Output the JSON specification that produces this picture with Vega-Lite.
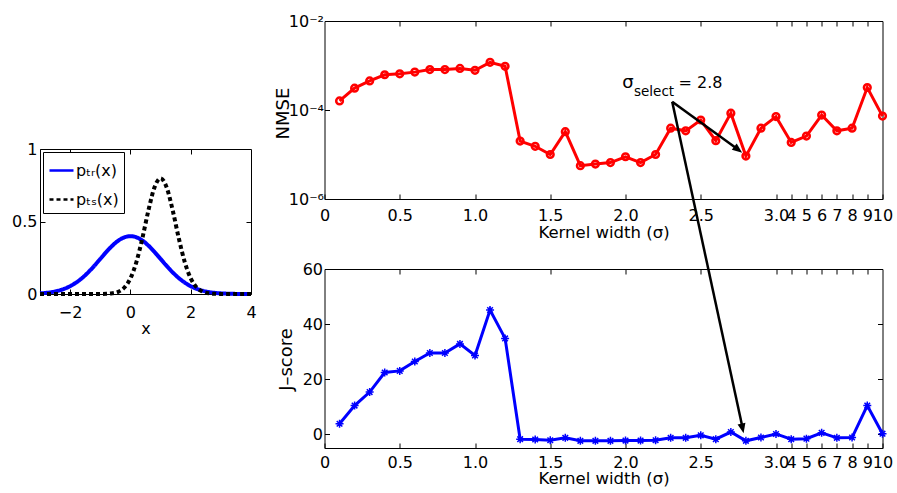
{
  "$schema": "https://vega.github.io/schema/vega-lite/v6.json",
  "background": "white",
  "padding": {"left": 11, "top": 12, "right": 0, "bottom": 0},
  "config": {
    "font": "DejaVu Sans",
    "view": {"stroke": "black", "strokeWidth": 1},
    "axis": {
      "domain": false, "grid": false, "tickSize": -5, "tickColor": "black", "tickWidth": 1,
      "labelFont": "DejaVu Sans", "labelFontSize": 16, "labelColor": "black",
      "titleFont": "DejaVu Sans", "titleFontSize": 16, "titleFontWeight": "normal", "titleColor": "black",
      "labelOverlap": false, "labelFlush": false
    },
    "legend": {
      "orient": "top-left", "offset": 3, "title": null, "labelFont": "DejaVu Sans", "labelFontSize": 16, "labelColor": "black",
      "symbolType": "stroke", "symbolSize": 576, "symbolStrokeWidth": 2.5, "strokeColor": "black", "fillColor": "white",
      "padding": 5, "rowPadding": 7, "labelOffset": 1
    }
  },
  "datasets": {
    "gauss": [
      {"x": -3.0, "tr": 0.00443, "ts": 0}, {"x": -2.8, "tr": 0.00792, "ts": 0}, {"x": -2.6, "tr": 0.01358, "ts": 0},
      {"x": -2.4, "tr": 0.02239, "ts": 0}, {"x": -2.2, "tr": 0.03547, "ts": 0}, {"x": -2.0, "tr": 0.05399, "ts": 0},
      {"x": -1.8, "tr": 0.07895, "ts": 0}, {"x": -1.6, "tr": 0.11092, "ts": 0}, {"x": -1.4, "tr": 0.14973, "ts": 0.00001},
      {"x": -1.2, "tr": 0.19419, "ts": 0.00005}, {"x": -1.0, "tr": 0.24197, "ts": 0.00027}, {"x": -0.8, "tr": 0.28969, "ts": 0.00122},
      {"x": -0.6, "tr": 0.33322, "ts": 0.00477}, {"x": -0.4, "tr": 0.36827, "ts": 0.01583}, {"x": -0.2, "tr": 0.39104, "ts": 0.04478},
      {"x": 0.0, "tr": 0.39894, "ts": 0.10798}, {"x": 0.2, "tr": 0.39104, "ts": 0.22184}, {"x": 0.4, "tr": 0.36827, "ts": 0.38837},
      {"x": 0.6, "tr": 0.33322, "ts": 0.57938}, {"x": 0.8, "tr": 0.28969, "ts": 0.73654}, {"x": 1.0, "tr": 0.24197, "ts": 0.79788},
      {"x": 1.2, "tr": 0.19419, "ts": 0.73654}, {"x": 1.4, "tr": 0.14973, "ts": 0.57938}, {"x": 1.6, "tr": 0.11092, "ts": 0.38837},
      {"x": 1.8, "tr": 0.07895, "ts": 0.22184}, {"x": 2.0, "tr": 0.05399, "ts": 0.10798}, {"x": 2.2, "tr": 0.03547, "ts": 0.04478},
      {"x": 2.4, "tr": 0.02239, "ts": 0.01583}, {"x": 2.6, "tr": 0.01358, "ts": 0.00477}, {"x": 2.8, "tr": 0.00792, "ts": 0.00122},
      {"x": 3.0, "tr": 0.00443, "ts": 0.00027}, {"x": 3.2, "tr": 0.00238, "ts": 0.00005}, {"x": 3.4, "tr": 0.00123, "ts": 0.00001},
      {"x": 3.6, "tr": 0.00061, "ts": 0}, {"x": 3.8, "tr": 0.00029, "ts": 0}, {"x": 4.0, "tr": 0.00013, "ts": 0}
    ],
    "nmse": [
      {"sigma": 0.1, "nmse": 1.6e-4}, {"sigma": 0.2, "nmse": 3.1e-4}, {"sigma": 0.3, "nmse": 4.5e-4}, {"sigma": 0.4, "nmse": 6.2e-4},
      {"sigma": 0.5, "nmse": 6.5e-4}, {"sigma": 0.6, "nmse": 7.1e-4}, {"sigma": 0.7, "nmse": 8.1e-4}, {"sigma": 0.8, "nmse": 8.1e-4},
      {"sigma": 0.9, "nmse": 8.6e-4}, {"sigma": 1.0, "nmse": 7.8e-4}, {"sigma": 1.1, "nmse": 1.18e-3}, {"sigma": 1.2, "nmse": 9.6e-4},
      {"sigma": 1.3, "nmse": 2.0e-5}, {"sigma": 1.4, "nmse": 1.53e-5}, {"sigma": 1.5, "nmse": 1.0e-5}, {"sigma": 1.6, "nmse": 3.26e-5},
      {"sigma": 1.7, "nmse": 5.6e-6}, {"sigma": 1.8, "nmse": 6.1e-6}, {"sigma": 1.9, "nmse": 6.6e-6}, {"sigma": 2.0, "nmse": 8.9e-6},
      {"sigma": 2.1, "nmse": 6.6e-6}, {"sigma": 2.2, "nmse": 1.0e-5}, {"sigma": 2.3, "nmse": 3.9e-5}, {"sigma": 2.4, "nmse": 3.4e-5},
      {"sigma": 2.5, "nmse": 5.96e-5}, {"sigma": 2.6, "nmse": 2.04e-5}, {"sigma": 2.7, "nmse": 8.5e-5}, {"sigma": 2.8, "nmse": 9.2e-6},
      {"sigma": 2.9, "nmse": 3.9e-5}, {"sigma": 3.0, "nmse": 7.1e-5}, {"sigma": 4, "nmse": 1.87e-5}, {"sigma": 5, "nmse": 2.6e-5},
      {"sigma": 6, "nmse": 7.7e-5}, {"sigma": 7, "nmse": 3.4e-5}, {"sigma": 8, "nmse": 3.9e-5}, {"sigma": 9, "nmse": 3.2e-4},
      {"sigma": 10, "nmse": 7.3e-5}
    ],
    "jscore": [
      {"sigma": 0.1, "j": 3.8}, {"sigma": 0.2, "j": 10.4}, {"sigma": 0.3, "j": 15.3}, {"sigma": 0.4, "j": 22.4},
      {"sigma": 0.5, "j": 23.0}, {"sigma": 0.6, "j": 26.4}, {"sigma": 0.7, "j": 29.5}, {"sigma": 0.8, "j": 29.5},
      {"sigma": 0.9, "j": 32.8}, {"sigma": 1.0, "j": 28.6}, {"sigma": 1.1, "j": 45.1}, {"sigma": 1.2, "j": 34.8},
      {"sigma": 1.3, "j": -1.8}, {"sigma": 1.4, "j": -1.9}, {"sigma": 1.5, "j": -2.2}, {"sigma": 1.6, "j": -1.3},
      {"sigma": 1.7, "j": -2.4}, {"sigma": 1.8, "j": -2.4}, {"sigma": 1.9, "j": -2.4}, {"sigma": 2.0, "j": -2.3},
      {"sigma": 2.1, "j": -2.3}, {"sigma": 2.2, "j": -2.2}, {"sigma": 2.3, "j": -1.3}, {"sigma": 2.4, "j": -1.3},
      {"sigma": 2.5, "j": -0.4}, {"sigma": 2.6, "j": -1.8}, {"sigma": 2.7, "j": 0.8}, {"sigma": 2.8, "j": -2.4},
      {"sigma": 2.9, "j": -1.2}, {"sigma": 3.0, "j": 0.1}, {"sigma": 4, "j": -1.8}, {"sigma": 5, "j": -1.6},
      {"sigma": 6, "j": 0.5}, {"sigma": 7, "j": -1.3}, {"sigma": 8, "j": -1.2}, {"sigma": 9, "j": 10.4},
      {"sigma": 10, "j": 0.2}
    ]
  },
  "bounds": "flush",
  "spacing": 284.5,
  "resolve": {"scale": {"color": "independent", "strokeDash": "independent"}, "legend": {"color": "independent", "strokeDash": "independent"}},
  "hconcat": [
    {
      "bounds": "flush",
      "spacing": 118,
      "resolve": {"scale": {"color": "independent", "strokeDash": "independent"}, "legend": {"color": "independent", "strokeDash": "independent"}},
      "vconcat": [
        {
          "width": 211, "height": 10,
          "view": {"stroke": null},
          "data": {"values": [{"a": 1}]},
          "mark": {"type": "point", "opacity": 0},
          "encoding": {}
        },
        {
          "width": 211, "height": 145,
          "data": {"name": "gauss"},
          "transform": [{"fold": ["tr", "ts"], "as": ["series", "p"]}],
          "layer": [
            {
              "mark": {"type": "line", "strokeWidth": 4, "interpolate": "monotone", "strokeCap": "butt"},
              "encoding": {
                "x": {"field": "x", "type": "quantitative", "scale": {"domain": [-3, 4], "nice": false},
                      "axis": {"values": [-2, 0, 2, 4], "title": "x", "labelPadding": 28, "labelBaseline": "alphabetic", "titleY": 39, "titleBaseline": "alphabetic"}},
                "y": {"field": "p", "type": "quantitative", "scale": {"domain": [0, 1], "nice": false},
                      "axis": {"values": [0, 0.5, 1], "labelExpr": "format(datum.value, '~g')", "title": null, "labelPadding": 8}},
                "color": {"field": "series", "type": "nominal", "scale": {"domain": ["tr", "ts"], "range": ["#0000ff", "#000000"]},
                          "legend": {"labelExpr": "datum.value == 'tr' ? 'pₜᵣ(x)' : 'pₜₛ(x)'"}},
                "strokeDash": {"field": "series", "type": "nominal", "scale": {"domain": ["tr", "ts"], "range": [[1, 0], [4, 3]]},
                          "legend": {"labelExpr": "datum.value == 'tr' ? 'pₜᵣ(x)' : 'pₜₛ(x)'"}}
              }
            },
            {
              "mark": {"type": "point", "opacity": 0},
              "encoding": {
                "x": {"field": "x", "type": "quantitative", "axis": {"orient": "top", "values": [-2, 0, 2], "labels": false, "title": null}},
                "y": {"field": "p", "type": "quantitative", "axis": {"orient": "right", "values": [0.5], "labels": false, "title": null}}
              }
            }
          ],
          "resolve": {"axis": {"x": "independent", "y": "independent"}}
        }
      ]
    },
    {
      "bounds": "flush",
      "spacing": 70,
      "vconcat": [
        {
          "width": 558, "height": 178,
          "layer": [
            {
              "data": {"name": "nmse"},
              "mark": {"type": "line", "color": "#ff0000", "strokeWidth": 3},
              "encoding": {
                "x": {"field": "sigma", "type": "quantitative", "scale": {"domain": [0, 3, 10], "range": [0, 451.5, 558]},
                      "axis": {"values": [0, 0.5, 1, 1.5, 2, 2.5, 3, 4, 5, 6, 7, 8, 9, 10],
                               "labelExpr": "datum.value == 0 ? '0' : datum.value <= 3 ? format(datum.value, '.1f') : format(datum.value, 'd')",
                               "title": "Kernel width (σ)", "labelPadding": 26, "labelBaseline": "alphabetic",
                               "titleY": 38.7, "titleBaseline": "alphabetic", "titleFontSize": 16.5}},
                "y": {"field": "nmse", "type": "quantitative", "scale": {"type": "log", "domain": [1e-6, 1e-2]},
                      "axis": {"values": [1e-6, 1e-4, 1e-2],
                               "labelExpr": "datum.value < 5e-6 ? '10⁻⁶' : datum.value < 5e-4 ? '10⁻⁴' : '10⁻²'",
                               "title": "NMSE", "titleFontSize": 18, "titleX": -35.7, "titleY": 92, "titleBaseline": "alphabetic", "labelPadding": 6}}
              }
            },
            {
              "data": {"name": "nmse"},
              "mark": {"type": "point", "shape": "circle", "filled": false, "color": "#ff0000", "strokeWidth": 2.5, "size": 45, "opacity": 1},
              "encoding": {
                "x": {"field": "sigma", "type": "quantitative", "axis": null},
                "y": {"field": "nmse", "type": "quantitative", "axis": null}
              }
            },
            {
              "data": {"name": "nmse"},
              "mark": {"type": "point", "opacity": 0},
              "encoding": {
                "x": {"field": "sigma", "type": "quantitative", "axis": {"orient": "top", "values": [0.5, 1, 1.5, 2, 2.5, 3, 4, 5, 6, 7, 8, 9], "labels": false, "title": null}},
                "y": {"field": "nmse", "type": "quantitative", "axis": null}
              }
            },
            {
              "data": {"values": [{"s1": 2.3103, "n1": 1.537e-4, "s2": 2.7435, "n2": 1.322e-5}]},
              "mark": {"type": "rule", "color": "black", "strokeWidth": 2.5},
              "encoding": {
                "x": {"field": "s1", "type": "quantitative", "axis": null},
                "y": {"field": "n1", "type": "quantitative", "axis": null},
                "x2": {"field": "s2"},
                "y2": {"field": "n2"}
              }
            },
            {
              "data": {"values": [{"s": 2.7754, "n": 1.098e-5}]},
              "mark": {"type": "point", "shape": "M0,0L-0.8,-2L0.8,-2Z", "filled": true, "color": "black", "opacity": 1, "size": 100, "angle": 307.4},
              "encoding": {
                "x": {"field": "s", "type": "quantitative", "axis": null},
                "y": {"field": "n", "type": "quantitative", "axis": null}
              }
            },
            {
              "data": {"values": [{"s": 1.978, "n": 3.12e-4, "t": "σ"}]},
              "mark": {"type": "text", "align": "left", "baseline": "alphabetic", "fontSize": 18, "color": "black"},
              "encoding": {
                "x": {"field": "s", "type": "quantitative", "axis": null},
                "y": {"field": "n", "type": "quantitative", "axis": null},
                "text": {"field": "t"}
              }
            },
            {
              "data": {"values": [{"s": 2.0565, "n": 2.065e-4, "t": "select"}]},
              "mark": {"type": "text", "align": "left", "baseline": "alphabetic", "fontSize": 13.5, "color": "black"},
              "encoding": {
                "x": {"field": "s", "type": "quantitative", "axis": null},
                "y": {"field": "n", "type": "quantitative", "axis": null},
                "text": {"field": "t"}
              }
            },
            {
              "data": {"values": [{"s": 2.352, "n": 3.08e-4, "t": "= 2.8"}]},
              "mark": {"type": "text", "align": "left", "baseline": "alphabetic", "fontSize": 16, "color": "black"},
              "encoding": {
                "x": {"field": "s", "type": "quantitative", "axis": null},
                "y": {"field": "n", "type": "quantitative", "axis": null},
                "text": {"field": "t"}
              }
            }
          ],
          "resolve": {"axis": {"x": "independent", "y": "independent"}}
        },
        {
          "width": 558, "height": 179,
          "layer": [
            {
              "data": {"name": "jscore"},
              "mark": {"type": "line", "color": "#0000ff", "strokeWidth": 3},
              "encoding": {
                "x": {"field": "sigma", "type": "quantitative", "scale": {"domain": [0, 3, 10], "range": [0, 451.5, 558]},
                      "axis": {"values": [0, 0.5, 1, 1.5, 2, 2.5, 3, 4, 5, 6, 7, 8, 9, 10],
                               "labelExpr": "datum.value == 0 ? '0' : datum.value <= 3 ? format(datum.value, '.1f') : format(datum.value, 'd')",
                               "title": "Kernel width (σ)", "labelPadding": 24, "labelBaseline": "alphabetic",
                               "titleY": 35, "titleBaseline": "alphabetic", "titleFontSize": 16.5}},
                "y": {"field": "j", "type": "quantitative", "scale": {"domain": [-5, 60], "nice": false},
                      "axis": {"values": [0, 20, 40, 60], "title": "J–score", "titleFontSize": 18, "titleX": -33, "titleY": 90,
                               "titleBaseline": "alphabetic", "labelPadding": 7}}
              }
            },
            {
              "data": {"name": "jscore"},
              "mark": {"type": "point", "shape": "M0,-1L0,1M-1,0L1,0M-0.7,-0.7L0.7,0.7M-0.7,0.7L0.7,-0.7", "filled": false, "color": "#0000ff", "strokeWidth": 1.5, "size": 64, "opacity": 1},
              "encoding": {
                "x": {"field": "sigma", "type": "quantitative", "axis": null},
                "y": {"field": "j", "type": "quantitative", "axis": null}
              }
            },
            {
              "data": {"name": "jscore"},
              "mark": {"type": "point", "opacity": 0},
              "encoding": {
                "x": {"field": "sigma", "type": "quantitative", "axis": {"orient": "top", "values": [0.5, 1, 1.5, 2, 2.5, 3, 4, 5, 6, 7, 8, 9], "labels": false, "title": null}},
                "y": {"field": "j", "type": "quantitative", "axis": {"orient": "right", "values": [0, 20, 40], "labels": false, "title": null}}
              }
            },
            {
              "data": {"values": [{"s1": 2.3103, "j1": 120.74, "s2": 2.7774, "j2": 2.47}]},
              "mark": {"type": "rule", "color": "black", "strokeWidth": 2.5},
              "encoding": {
                "x": {"field": "s1", "type": "quantitative", "axis": null},
                "y": {"field": "j1", "type": "quantitative", "axis": null},
                "x2": {"field": "s2"},
                "y2": {"field": "j2"}
              }
            },
            {
              "data": {"values": [{"s": 2.7847, "j": 0.33}]},
              "mark": {"type": "point", "shape": "M0,0L-0.8,-2L0.8,-2Z", "filled": true, "color": "black", "opacity": 1, "size": 100, "angle": 347.8},
              "encoding": {
                "x": {"field": "s", "type": "quantitative", "axis": null},
                "y": {"field": "j", "type": "quantitative", "axis": null}
              }
            }
          ],
          "resolve": {"axis": {"x": "independent", "y": "independent"}}
        }
      ]
    }
  ]
}
